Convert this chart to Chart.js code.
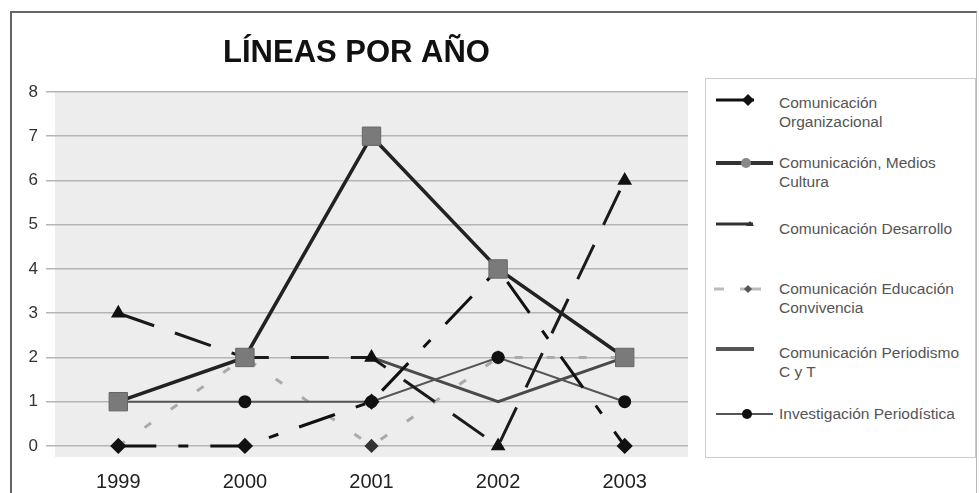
<!DOCTYPE html>
<html>
<head>
<meta charset="utf-8">
<script src="https://cdn.jsdelivr.net/npm/chart.js@4.4.1/dist/chart.umd.min.js"></script>
<style>
  html, body { margin: 0; padding: 0; background: #fff; }
  #wrap { position: relative; width: 979px; height: 493px; overflow: hidden;
          font-family: "Liberation Sans", Arial, sans-serif; }
  #frame { position: absolute; left: 10px; top: 11px; width: 967px; height: 520px;
           border-top: 2px solid #666; border-left: 2px solid #666; border-right: 1px solid #bbb;
           box-sizing: border-box; }
  #chart { position: absolute; left: 0; top: 0; }
  #legend { position: absolute; left: 705px; top: 78px; width: 271px; height: 380px;
            border: 1px solid #ccc; box-sizing: border-box; background: #fff; }
  .item svg { position: absolute; left: 0; }
  .item span { position: absolute; left: 73px; font-size: 15.5px; color: #555; line-height: 19px;
               white-space: nowrap; }
</style>
</head>
<body>
<div id="wrap">
  <div id="frame"></div>
  <canvas id="chart" width="979" height="493"></canvas>
  <div id="legend"></div>
</div>
<script>
// datos
const years = ['1999', '2000', '2001', '2002', '2003'];
const organizacional = [0, 0, 1, 4, 0];
const mediosCultura  = [1, 2, 7, 4, 2];
const desarrollo     = [3, 2, 2, 0, 6];
const educacion      = [0, 2, 0, 2, 2];
const periodismoCyT  = [null, null, 2, 1, 2];
const investigacion  = [1, 1, 1, 2, 1];
const yTicks = [0, 1, 2, 3, 4, 5, 6, 7, 8];
const seriesNames = [
  ['Comunicación', 'Organizacional'],
  ['Comunicación, Medios', 'Cultura'],
  ['Comunicación Desarrollo'],
  ['Comunicación Educación', 'Convivencia'],
  ['Comunicación Periodismo', 'C y T'],
  ['Investigación Periodística']
];

// fondo gris del area de trazado
const plotBg = {
  id: 'plotBg',
  beforeDraw(c) {
    const a = c.chartArea, ctx = c.ctx;
    ctx.save();
    ctx.fillStyle = '#ededed';
    ctx.fillRect(a.left, a.top, a.right - a.left, a.bottom - a.top);
    ctx.restore();
  }
};

new Chart(document.getElementById('chart').getContext('2d'), {
  type: 'line',
  data: {
    labels: years,
    datasets: [
      { label: seriesNames[1].join(' '), data: mediosCultura, borderColor: '#222', borderWidth: 3.5,
        pointStyle: 'rect', pointRadius: 13, pointBackgroundColor: '#7a7a7a', pointBorderColor: '#666', pointBorderWidth: 1 },
      { label: seriesNames[0].join(' '), data: organizacional, borderColor: '#111', borderWidth: 3,
        borderDash: [38, 22, 10, 22], pointStyle: 'rectRot', pointRadius: 6,
        pointBackgroundColor: '#111', pointBorderColor: '#111' },
      { label: seriesNames[2].join(' '), data: desarrollo, borderColor: '#1a1a1a', borderWidth: 3,
        borderDash: [38, 22], pointStyle: 'triangle', pointRadius: 5.5,
        pointBackgroundColor: '#111', pointBorderColor: '#111' },
      { label: seriesNames[5].join(' '), data: investigacion, borderColor: '#555', borderWidth: 2,
        pointStyle: 'circle', pointRadius: 5.5, pointBackgroundColor: '#111', pointBorderColor: '#111' },
      { label: seriesNames[4].join(' '), data: periodismoCyT, borderColor: '#4a4a4a', borderWidth: 3,
        pointRadius: 0 },
      { label: seriesNames[3].join(' '), data: educacion, borderColor: '#aaa', borderWidth: 3,
        borderDash: [8, 24], pointStyle: 'rectRot', pointRadius: 5,
        pointBackgroundColor: '#333', pointBorderColor: '#333' }
    ]
  },
  options: {
    responsive: false,
    animation: false,
    spanGaps: false,
    elements: { line: { tension: 0, fill: false } },
    layout: { padding: { left: 25, right: 291, top: 18, bottom: 0 } },
    plugins: {
      legend: { display: false },
      tooltip: { enabled: false },
      title: {
        display: true, text: 'LÍNEAS POR AÑO', color: '#111',
        font: { family: '"Liberation Sans", Arial', size: 31, weight: 'bold' },
        padding: { top: 17, bottom: 19.8 }
      }
    },
    scales: {
      x: {
        offset: true,
        grid: { display: false },
        border: { display: false },
        ticks: { color: '#222', padding: 5, font: { family: '"Liberation Sans", Arial', size: 20 } },
        afterFit: s => { s.height = 36; }
      },
      y: {
        min: -0.25, max: 8,
        afterBuildTicks: s => { s.ticks = yTicks.map(v => ({ value: v })); },
        grid: { color: '#b5b5b5', lineWidth: 1.5, tickLength: 9 },
        border: { display: false },
        ticks: { color: '#333', padding: 8, font: { family: '"Liberation Sans", Arial', size: 17 } },
        afterFit: s => { s.width = 30; }
      }
    }
  },
  plugins: [plotBg]
});

// leyenda a mano: muestra de linea + texto en varias lineas
const legendY = [21, 84, 145, 210, 270, 335];
const textTop = [14, 74, 140, 200, 264, 325];
const samples = [
  '<line x1="10" y1="10" x2="48" y2="10" stroke="#111" stroke-width="3"/><polygon points="42,4 48,10 42,16 36,10" fill="#111"/>',
  '<line x1="10" y1="10" x2="67" y2="10" stroke="#333" stroke-width="4"/><circle cx="40" cy="10" r="5" fill="#888"/>',
  '<line x1="10" y1="10" x2="47" y2="10" stroke="#333" stroke-width="3"/><polygon points="44,7 48,12 40,12" fill="#333"/>',
  '<line x1="8" y1="10" x2="18" y2="10" stroke="#bbb" stroke-width="3"/><line x1="34" y1="10" x2="55" y2="10" stroke="#bbb" stroke-width="3"/><polygon points="42,6 46,10 42,14 38,10" fill="#555"/>',
  '<line x1="10" y1="10" x2="48" y2="10" stroke="#555" stroke-width="4"/>',
  '<line x1="10" y1="10" x2="67" y2="10" stroke="#555" stroke-width="2"/><circle cx="41" cy="10" r="5" fill="#111"/>'
];
const lg = document.getElementById('legend');
seriesNames.forEach((name, i) => {
  const it = document.createElement('div');
  it.className = 'item';
  it.innerHTML = `<svg width="72" height="20" style="top:${legendY[i] - 10}px">${samples[i]}</svg>` +
                 `<span style="top:${textTop[i]}px">${name.join('<br>')}</span>`;
  lg.appendChild(it);
});
</script>
</body>
</html>
